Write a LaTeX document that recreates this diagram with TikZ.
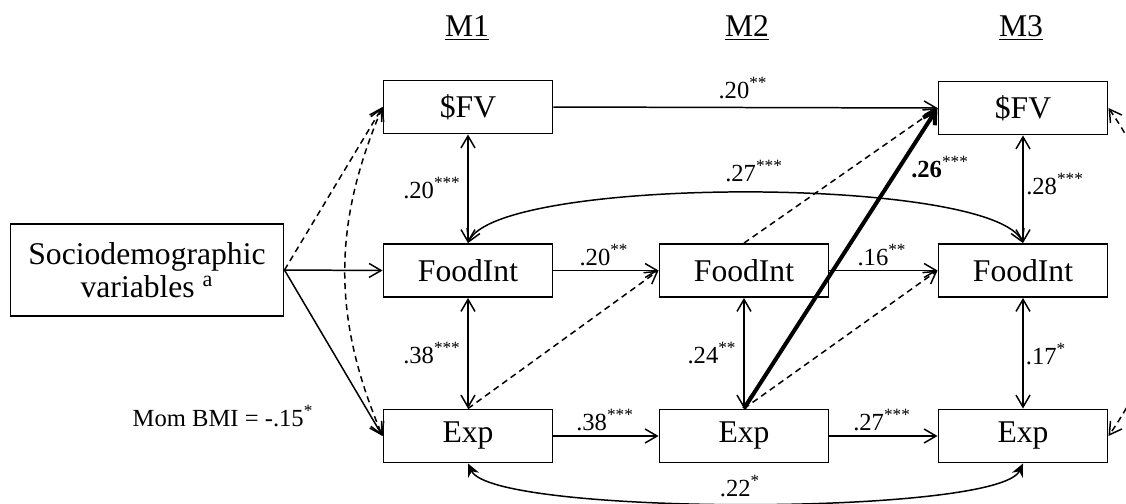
\documentclass[tikz,border=0pt]{standalone}
\usepackage{fontspec}
\setmainfont{Liberation Serif}
\usetikzlibrary{arrows.meta}

\begin{document}
\begin{tikzpicture}[
    var/.style={
        rectangle,
        draw,
        line width=1.1pt,
        minimum width=3.38cm,
        minimum height=1.06cm,
        inner sep=0pt,
        font=\fontsize{18}{20}\selectfont
    },
    socio/.style={
        var,
        minimum width=5.46cm,
        minimum height=1.84cm,
        align=center,
        font=\fontsize{18}{19}\selectfont
    },
    wave/.style={
        font=\fontsize{18}{20}\selectfont
    },
    coef/.style={
        inner sep=1pt,
        font=\fontsize{14}{15}\selectfont
    },
    effect/.style={
        -{Straight Barb[length=2.4mm,width=2.8mm]},
        line width=0.85pt
    },
    nseffect/.style={
        effect,
        dash pattern=on 3.5pt off 2.5pt
    },
    covar/.style={
        {Straight Barb[length=2.4mm,width=2.8mm]}-{Straight Barb[length=2.4mm,width=2.8mm]},
        line width=0.85pt
    },
    nscovar/.style={
        covar,
        dash pattern=on 3.5pt off 2.5pt
    }
]
\useasboundingbox (0,0) rectangle (22.52,10.06);

% Waves
\node[wave] (m1) at (9.34,9.5) {\underline{M1}};
\node[wave] (m2) at (14.94,9.5) {\underline{M2}};
\node[wave] (m3) at (20.42,9.5) {\underline{M3}};

% Variables
\node[socio] (socio) at (2.94,4.66) {Sociodemographic\\variables \textsuperscript{a}};

\node[var] (fv1) at (9.36,7.92) {\$FV};
\node[var] (fi1) at (9.36,4.65) {FoodInt};
\node[var] (ex1) at (9.36,1.34) {Exp};

\node[var] (fi2) at (14.88,4.65) {FoodInt};
\node[var] (ex2) at (14.88,1.34) {Exp};

\node[var] (fv3) at (20.46,7.9) {\$FV};
\node[var] (fi3) at (20.46,4.65) {FoodInt};
\node[var] (ex3) at (20.46,1.34) {Exp};

% Covariates
\draw[nseffect] (socio.east) -- (fv1.west);
\draw[effect] (socio.east) -- (fi1.west);
\draw[effect] (socio.east) -- (ex1.west);
\draw[nscovar] (fv1.west) to[bend right=23] (ex1.west);
\node[coef] (mom) at (4.46,1.74) {Mom BMI = -.15\textsuperscript{*}};

% Paths over time
\draw[effect] (fv1.east) -- (fv3.west);
\draw[effect] (fi1.east) -- (fi2.west);
\draw[effect] (ex1.east) -- (ex2.west);
\draw[effect] (fi2.east) -- (fi3.west);
\draw[effect] (ex2.east) -- (ex3.west);
\draw[nseffect] (ex1.north) -- (fi2.west);
\draw[nseffect] (fi2.north) -- (fv3.west);
\draw[nseffect] (ex2.north) -- (fi3.west);
\draw[effect, line width=2.3pt] (ex2.north) -- (fv3.west);

% Within-wave covariances
\draw[covar] (fv1.south) -- (fi1.north);
\draw[covar] (fi1.south) -- (ex1.north);
\draw[covar] (fi2.south) -- (ex2.north);
\draw[covar] (fv3.south) -- (fi3.north);
\draw[covar] (fi3.south) -- (ex3.north);

% Across-wave covariances
\draw[covar] (fi1.north) .. controls +(0.6,1.35) and +(-0.6,1.35) .. (fi3.north);
\draw[line width=0.85pt, {Stealth[length=2.6mm,width=2.4mm]}-{Stealth[length=2.6mm,width=2.4mm]}]
    (ex1.south) .. controls +(0.5,-1.05) and +(-0.5,-1.05) .. (ex3.south);
\draw[nscovar] (fv3.east) to[bend left=35] (ex3.east);

% Coefficients
\node[coef] (c1) at (14.86,8.3) {.20\textsuperscript{**}};
\node[coef] (c2) at (8.64,6.3) {.20\textsuperscript{***}};
\node[coef] (c3) at (8.64,3.0) {.38\textsuperscript{***}};
\node[coef] (c4) at (12.08,4.96) {.20\textsuperscript{**}};
\node[coef] (c5) at (12.1,1.66) {.38\textsuperscript{***}};
\node[coef] (c6) at (14.24,3.0) {.24\textsuperscript{**}};
\node[coef] (c7) at (18.8,6.72) {\textbf{.26}\textsuperscript{***}};
\node[coef] (c8) at (15.08,6.64) {.27\textsuperscript{***}};
\node[coef] (c9) at (17.64,4.96) {.16\textsuperscript{**}};
\node[coef] (c10) at (17.64,1.66) {.27\textsuperscript{***}};
\node[coef] (c11) at (21.1,6.38) {.28\textsuperscript{***}};
\node[coef] (c12) at (20.92,2.98) {.17\textsuperscript{*}};
\node[coef] (c13) at (14.8,0.34) {.22\textsuperscript{*}};

\end{tikzpicture}
\end{document}
